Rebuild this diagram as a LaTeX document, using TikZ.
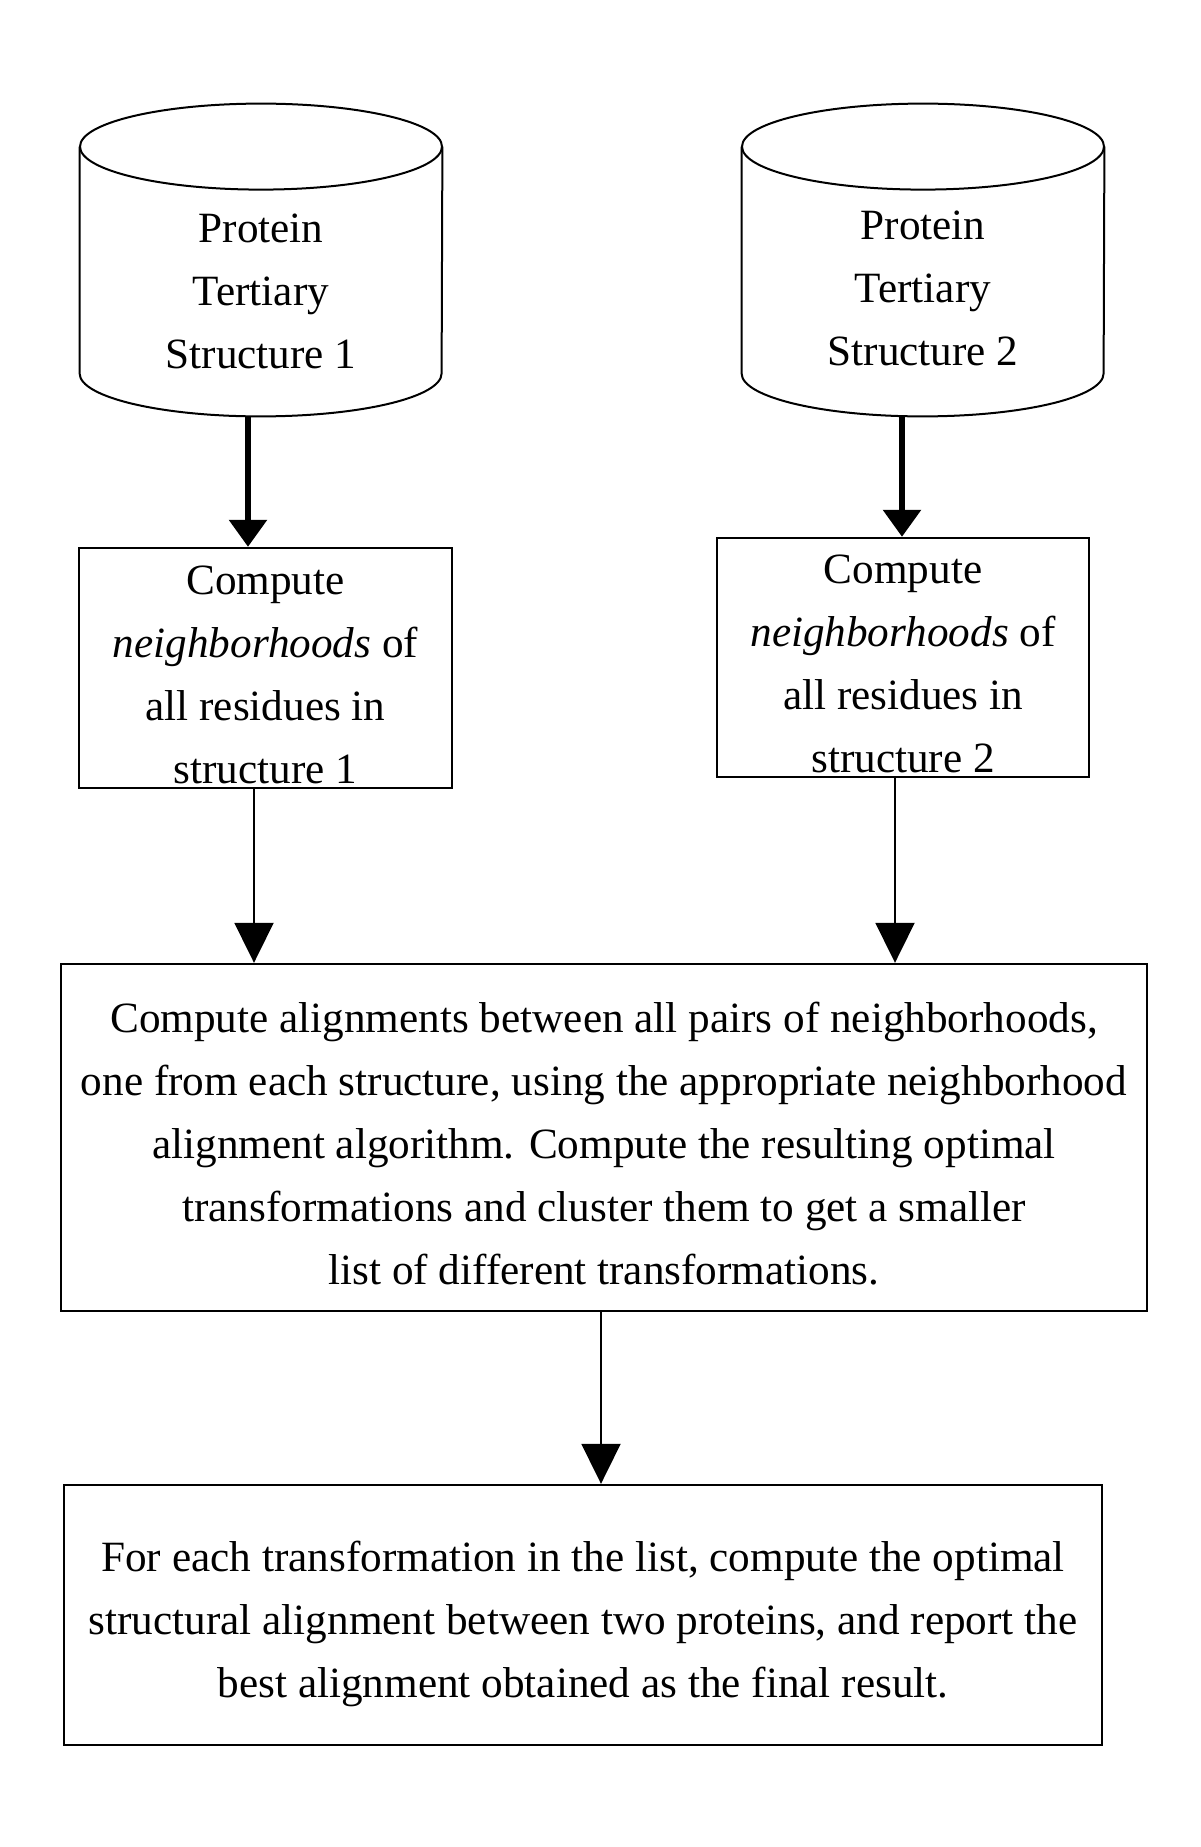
\documentclass[tikz,border=0pt]{standalone}
\usepackage{fontspec}
\setmainfont{Liberation Serif}
\usetikzlibrary{
	arrows.meta,
	calc,
	positioning,
}
\tikzset{db node/.style={
	rectangle,
	inner sep=0pt,
	minimum width=181pt,
	minimum height=156pt,
},
	db line/.style={line width=1pt},
	db text/.style={
	align=center,
	inner sep=0pt,
	font=\fontsize{21.6}{31.5}\selectfont,
},
	process box/.style={
	draw,
	rectangle,
	align=center,
	inner sep=0pt,
	line width=1.2pt,
	font=\fontsize{21.6}{31.5}\selectfont,
},
	thick link/.style={-{Triangle[width=18.5pt,length=13.5pt]}, line width=3pt},
	thin link/.style={-{Triangle[width=19.5pt,length=20pt]}, line width=1pt},
}

\begin{document}
\begin{tikzpicture}[x=0.5pt,y=-0.5pt]
\useasboundingbox (0,0) rectangle (1200,1847);

\node(db1)[db node] at (261,260) {};
\node(db2)[db node] at (923,260) {};

% cylinders round the two structures
\foreach \i in {1,2} {
\draw[db line] ([yshift=-21.5pt]db\i.north west) -- ([yshift=21.5pt]db\i.south west)
	arc[start angle=180, end angle=360, x radius=90.5pt, y radius=21.5pt]
	-- ([yshift=-21.5pt]db\i.north east);
\draw[db line] ([yshift=-21.5pt]db\i.north) ellipse[x radius=90.5pt, y radius=21.5pt];
}

\node(t1)[db text] at (261,291) {Protein\\Tertiary\\Structure 1};
\node(t2)[db text] at (923,288) {Protein\\Tertiary\\Structure 2};

\node(nb1)[process box, minimum width=186.5pt, minimum height=120pt] at (265.5,668)
	{\rule{0pt}{21pt}Compute\\\textit{neighborhoods} of\\all residues in\\structure 1};
\node(nb2)[process box, minimum width=186pt, minimum height=119.5pt] at (903,657.5)
	{\rule{0pt}{21pt}Compute\\\textit{neighborhoods} of\\all residues in\\structure 2};
\node(nb3)[process box, minimum width=543pt, minimum height=173.5pt] at (604,1137.5)
	{\rule{0pt}{21pt}Compute alignments between all pairs of neighborhoods,\\
	one from each structure, using the appropriate neighborhood\\
	alignment algorithm. Compute the resulting optimal\\
	transformations and cluster them to get a smaller\\
	list of different transformations.};
\node(nb4)[process box, minimum width=519pt, minimum height=130pt] at (583,1615)
	{\rule{0pt}{24pt}For each transformation in the list, compute the optimal\\
	structural alignment between two proteins, and report the\\
	best alignment obtained as the final result.};

% x positions of the arrows
\coordinate (a1) at (248,0);
\coordinate (a2) at (902,0);
\coordinate (b1) at (254,0);
\coordinate (b2) at (895,0);
\coordinate (c1) at (601,0);

\foreach \i in {1,2}
\draw[thick link] (db\i.south -| a\i) -- (nb\i.north -| a\i);

\foreach \i in {1,2}
\draw[thin link] (nb\i.south -| b\i) -- (nb3.north -| b\i);

\draw[thin link] (nb3.south -| c1) -- (nb4.north -| c1);

\end{tikzpicture}
\end{document}
